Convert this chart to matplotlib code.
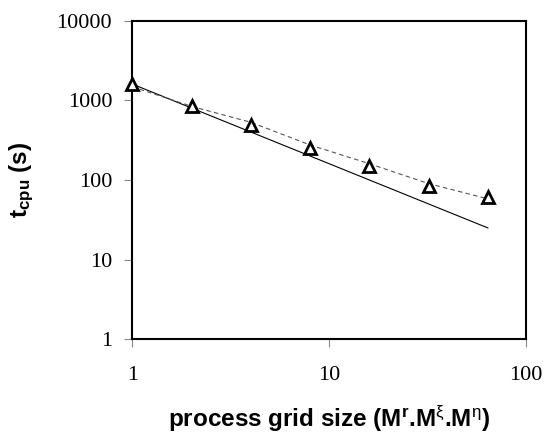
import matplotlib

matplotlib.use("Agg")
import matplotlib.pyplot as plt


# process grid sizes (M^r . M^xi . M^eta)
grid_sizes = [1, 2, 4, 8, 16, 32, 64]

# measured cpu time (triangles)
t_cpu_measured = [1600, 850, 490, 250, 148, 83, 62]

# dashed trend through the measurements
t_cpu_trend = [1480, 840, 530, 275, 160, 90, 58]

# ideal linear speed-up (solid line)
t_cpu_ideal = [1600, 800, 400, 200, 100, 50, 25]

x_ticks = [1, 10, 100]
x_tick_labels = ["1", "10", "100"]
y_ticks = [1, 10, 100, 1000, 10000]
y_tick_labels = ["1", "10", "100", "1000", "10000"]


plt.rcParams["mathtext.fontset"] = "custom"
plt.rcParams["mathtext.rm"] = "Liberation Sans"
plt.rcParams["mathtext.it"] = "Liberation Sans"
plt.rcParams["mathtext.bf"] = "Liberation Sans:bold"

fig = plt.figure(figsize=(5.45, 4.4), dpi=100)
ax = fig.add_axes([0.2428, 0.2289, 0.7224, 0.7241])

ax.plot(grid_sizes, t_cpu_ideal, color="black", linewidth=0.8, zorder=2)
ax.plot(grid_sizes, t_cpu_trend, color="#555555", linewidth=0.8,
        linestyle=(0, (4, 3)), zorder=2)
ax.plot(grid_sizes, t_cpu_measured, linestyle="none", marker="^",
        markersize=8.5, markerfacecolor="white", markeredgecolor="black",
        markeredgewidth=2.0, clip_on=False, zorder=4)

ax.set_xscale("log")
ax.set_yscale("log")
ax.set_xlim(1, 100)
ax.set_ylim(1, 10000)

ax.set_xticks(x_ticks)
ax.set_xticklabels(x_tick_labels)
ax.set_yticks(y_ticks)
ax.set_yticklabels(y_tick_labels)
ax.minorticks_off()

ax.tick_params(axis="both", labelfontfamily="Liberation Serif", labelsize=16)
ax.tick_params(axis="x", direction="out", length=5.5, width=0.8,
               color="#888888", pad=14)
ax.tick_params(axis="y", direction="out", length=5.5, width=0.8,
               color="#888888", pad=9)

for spine in ax.spines.values():
    spine.set_linewidth(1.5)
    spine.set_color("black")

ax.set_xlabel(r"process grid size ($\mathbf{M}^{\mathbf{r}}$.$\mathbf{M}^{\xi}$.$\mathbf{M}^{\eta}$)",
              fontfamily="Liberation Sans", fontweight="bold", fontsize=17.5,
              va="center")
ax.xaxis.set_label_coords(0.5, -0.25)

ax.set_ylabel(r"$\mathbf{t}_{\mathbf{cpu}}$ (s)",
              fontfamily="Liberation Sans", fontweight="bold", fontsize=17.5,
              va="center")
ax.yaxis.set_label_coords(-0.28, 0.5)

fig.savefig("out.png", dpi=100)
